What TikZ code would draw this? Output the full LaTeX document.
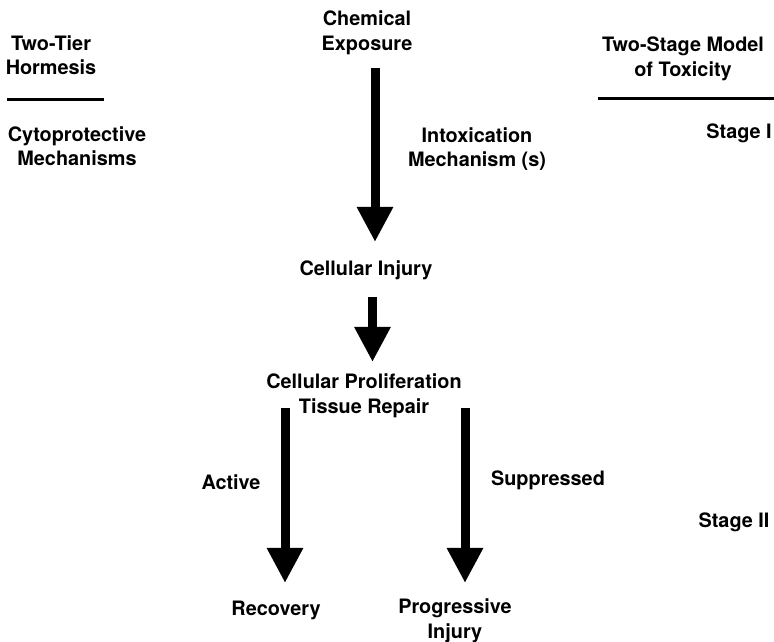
\documentclass[tikz,border=0pt]{standalone}
\usepackage{fontspec}
\setmainfont{TeX Gyre Heros}
\usetikzlibrary{arrows.meta,calc}
\begin{document}
\begin{tikzpicture}[x=0.2mm,y=-0.2mm,
		lbl/.style={font=\fontsize{11.3}{14}\selectfont\bfseries,align=center,inner sep=0pt},
		bigarrow/.style={line width=1.8mm,-{Triangle[width=6.8mm,length=7mm]}},
		rule/.style={line width=0.6mm}]
		\useasboundingbox (0,0) rectangle (774,642);
		% headings
		\node[lbl] (tier) at (51,55) {Two-Tier\\Hormesis};
		\node[lbl] (cyto) at (77,146) {Cytoprotective\\Mechanisms};
		\node[lbl] (model) at (683,59) {Two-Stage Model\\of Toxicity};
		\node[lbl] (stage1) at (739,133) {Stage I};
		\node[lbl] (stage2) at (734,522) {Stage II};
		\draw[rule] (7,100) -- (104,100);
		\draw[rule] (598,99) -- (774,99);
		% main chain
		\node[lbl] (expo) at (367,33) {Chemical\\Exposure};
		\node[lbl] (intox) at (477,149) {Intoxication\\Mechanism (s)};
		\node[lbl] (injury) at (366,270) {Cellular Injury};
		\node[lbl] (prolif) at (364,396) {Cellular Proliferation\\Tissue Repair};
		\node[lbl] (active) at (231,482) {Active};
		\node[lbl] (supp) at (548,480) {Suppressed};
		\node[lbl] (recov) at (276,610) {Recovery};
		\node[lbl] (prog) at (455,621) {Progressive\\Injury};
		\draw[bigarrow] ($(expo.center)+(8,35)$) -- ($(injury.center)+(9,-28)$);
		\draw[bigarrow] ($(injury.center)+(6.5,27)$) -- ($(prolif.center)+(8.5,-34)$);
		\draw[bigarrow] ($(prolif.center)+(-79,12)$) -- ($(recov.center)+(9,-27)$);
		\draw[bigarrow] ($(prolif.center)+(101,12)$) -- ($(prog.center)+(10,-38)$);
\end{tikzpicture}
\end{document}
